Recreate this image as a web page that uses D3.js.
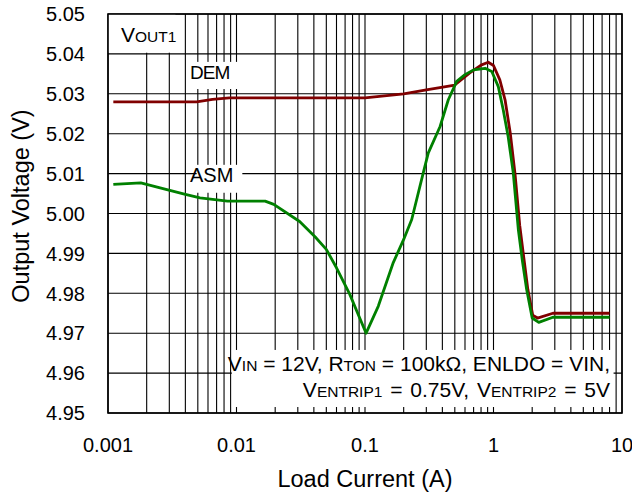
<!DOCTYPE html>
<html>
<head>
<meta charset="utf-8">
<script src="https://cdn.jsdelivr.net/npm/d3@7"></script>
<style>
  html, body { margin: 0; padding: 0; background: #fff; }
  svg { display: block; font-family: "Liberation Sans", Arial, sans-serif; }
  .pre { white-space: pre; }
</style>
</head>
<body>
<svg id="chart" width="632" height="495"></svg>
<script>
// Load current (A) and output voltage (V) for the two operating modes
const demCurrent = [0.0011, 0.0049, 0.0065, 0.0088, 0.1, 0.2, 0.3, 0.5, 0.65, 0.8, 0.91, 1.0, 1.12, 1.23, 1.35, 1.47, 1.6, 1.72, 1.85, 2.02, 2.2, 2.9, 8];
const demVoltage = [5.028, 5.028, 5.0286, 5.029, 5.029, 5.030, 5.031, 5.0322, 5.0352, 5.0372, 5.0379, 5.0371, 5.0335, 5.0285, 5.0202, 5.010, 4.997, 4.989, 4.981, 4.9745, 4.9738, 4.975, 4.975];

const asmCurrent = [0.0011, 0.0018, 0.0025, 0.004, 0.0052, 0.0085, 0.0167, 0.0195, 0.031, 0.041, 0.05, 0.06, 0.076, 0.102, 0.127, 0.166, 0.2, 0.231, 0.284, 0.311, 0.384, 0.445, 0.517, 0.6, 0.7, 0.86, 0.97, 1.09, 1.19, 1.3, 1.425, 1.56, 1.68, 1.81, 2.0, 2.25, 2.9, 8];
const asmVoltage = [5.0073, 5.0077, 5.0065, 5.0048, 5.0039, 5.0031, 5.0031, 5.0023, 4.998, 4.9941, 4.991, 4.9864, 4.9798, 4.970, 4.9768, 4.9877, 4.9935, 4.9985, 5.0102, 5.0152, 5.0218, 5.0285, 5.0331, 5.0348, 5.036, 5.0364, 5.0356, 5.0318, 5.026, 5.0193, 5.0102, 4.996, 4.988, 4.981, 4.9738, 4.9727, 4.974, 4.974];

const xTickValues = [0.001, 0.01, 0.1, 1, 10];
const xTickLabels = ["0.001", "0.01", "0.1", "1", "10"];
const yTickValues = [4.95, 4.96, 4.97, 4.98, 4.99, 5.00, 5.01, 5.02, 5.03, 5.04, 5.05];
const yTickLabels = ["4.95", "4.96", "4.97", "4.98", "4.99", "5.00", "5.01", "5.02", "5.03", "5.04", "5.05"];

const svg = d3.select("#chart");
const plot = { left: 108, right: 622, top: 14, bottom: 413 };

const x = d3.scaleLog().domain([0.001, 10]).range([plot.left, plot.right]);
const y = d3.scaleLinear().domain([4.95, 5.05]).range([plot.bottom, plot.top]);

// Log grid: 1..9 within every decade
const xGrid = [];
for (let d = -3; d < 1; d++) {
  for (let m = 1; m <= 9; m++) xGrid.push(m * Math.pow(10, d));
}
xGrid.push(10);

const grid = svg.append("g").attr("stroke", "#000").attr("stroke-width", 1.1);
grid.selectAll("line.v").data(xGrid).join("line")
  .attr("class", "v")
  .attr("x1", d => x(d)).attr("x2", d => x(d))
  .attr("y1", plot.top).attr("y2", plot.bottom);
grid.selectAll("line.h").data(yTickValues).join("line")
  .attr("class", "h")
  .attr("x1", plot.left).attr("x2", plot.right)
  .attr("y1", d => y(d)).attr("y2", d => y(d));

// White panels behind the in-plot labels
const panels = [
  { x0: 0.001, x1: 0.00335, y0: 5.05, y1: 5.0403 },
  { x0: 0.0049, x1: 0.0103, y0: 5.038, y1: 5.0312 },
  { x0: 0.0049, x1: 0.0111, y0: 5.0122, y1: 5.0052 },
  { x0: 0.0092, x1: 8.6, y0: 4.9658, y1: 4.9515 }
];
svg.append("g").selectAll("rect").data(panels).join("rect")
  .attr("x", d => x(d.x0))
  .attr("y", d => y(d.y0))
  .attr("width", d => x(d.x1) - x(d.x0))
  .attr("height", d => y(d.y1) - y(d.y0))
  .attr("fill", "#fff");

// Frame
svg.append("rect")
  .attr("x", plot.left).attr("y", plot.top)
  .attr("width", plot.right - plot.left).attr("height", plot.bottom - plot.top)
  .attr("fill", "none").attr("stroke", "#000").attr("stroke-width", 1.6);

// Curves
const line = d3.line()
  .x(d => x(d[0]))
  .y(d => y(d[1]))
  .curve(d3.curveLinear);

const demData = d3.zip(demCurrent, demVoltage);
const asmData = d3.zip(asmCurrent, asmVoltage);

svg.append("path").datum(demData)
  .attr("d", line).attr("fill", "none")
  .attr("stroke", "#800000").attr("stroke-width", 2.8)
  .attr("stroke-linejoin", "round");
svg.append("path").datum(asmData)
  .attr("d", line).attr("fill", "none")
  .attr("stroke", "#008000").attr("stroke-width", 2.8)
  .attr("stroke-linejoin", "round");

// Tick labels
svg.append("g").selectAll("text").data(yTickValues).join("text")
  .attr("x", 85).attr("y", d => y(d))
  .attr("dy", "0.36em")
  .attr("text-anchor", "end")
  .attr("font-size", 20)
  .attr("fill", "#000")
  .text((d, i) => yTickLabels[i]);

svg.append("g").selectAll("text").data(xTickValues).join("text")
  .attr("x", d => x(d)).attr("y", 452)
  .attr("text-anchor", "middle")
  .attr("font-size", 20)
  .attr("fill", "#000")
  .text((d, i) => xTickLabels[i]);

// Axis titles
svg.append("text")
  .attr("x", 365).attr("y", 487)
  .attr("text-anchor", "middle")
  .attr("font-size", 23.5)
  .text("Load Current (A)");

svg.append("text")
  .attr("transform", "translate(29,206) rotate(-90)")
  .attr("text-anchor", "middle")
  .attr("font-size", 23.5)
  .text("Output Voltage (V)");

// Helper for text with smaller subscript-style runs
function richText(parent, px, py, anchor, parts, big, small) {
  const t = parent.append("text")
    .attr("class", "pre")
    .attr("x", px).attr("y", py)
    .attr("text-anchor", anchor)
    .attr("fill", "#000");
  parts.forEach(p => {
    t.append("tspan")
      .attr("font-size", p.small ? small : big)
      .text(p.t);
  });
  return t;
}

richText(svg, 121, 42, "start", [{ t: "V" }, { t: "OUT1", small: true }], 21, 15.5);

svg.append("text")
  .attr("x", 190).attr("y", 79)
  .attr("font-size", 19).attr("letter-spacing", -1)
  .text("DEM");
svg.append("text")
  .attr("x", 190).attr("y", 182)
  .attr("font-size", 20)
  .text("ASM");

richText(svg, 610, 371, "end", [
  { t: "V" }, { t: "IN", small: true }, { t: " = 12V, R" }, { t: "TON", small: true },
  { t: " = 100kΩ, ENLDO = VIN," }
], 21, 15.5);
richText(svg, 610, 397, "end", [
  { t: "V" }, { t: "ENTRIP1", small: true }, { t: " = 0.75V, V" }, { t: "ENTRIP2", small: true },
  { t: " = 5V" }
], 21, 15.5).attr("word-spacing", 2);
</script>
</body>
</html>
